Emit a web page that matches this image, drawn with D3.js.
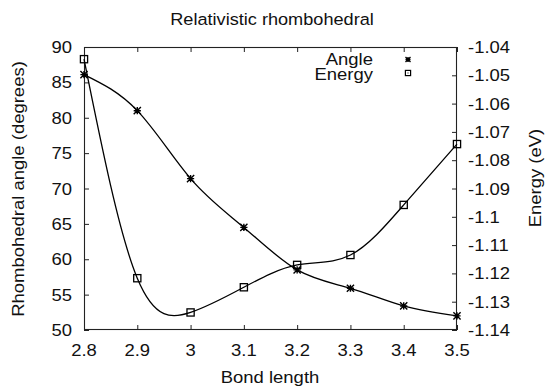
<!DOCTYPE html>
<html><head><meta charset="utf-8">
<script src="https://cdn.jsdelivr.net/npm/d3@7"></script>
<style>body{margin:0;background:#fff}svg{display:block}text{font-family:"Liberation Sans",Arial,sans-serif;fill:#111}</style>
</head><body><svg id="c" width="556" height="386"></svg>
<script>
const bondLength = [2.8, 2.9, 3.0, 3.1, 3.2, 3.3, 3.4, 3.5];
const angleDeg = [86.1, 81.0, 71.4, 64.5, 58.5, 55.9, 53.4, 52.0];
const energyEV = [-1.0443, -1.1217, -1.1338, -1.1249, -1.1170, -1.1135, -1.0958, -1.0743];
const xTicks = [2.8, 2.9, 3.0, 3.1, 3.2, 3.3, 3.4, 3.5];
const yLeftTicks = [50, 55, 60, 65, 70, 75, 80, 85, 90];
const yRightTicks = [-1.14, -1.13, -1.12, -1.11, -1.1, -1.09, -1.08, -1.07, -1.06, -1.05, -1.04];
const seriesNames = ["Angle", "Energy"];

const W = 556, H = 386;
const m = {l: 84, r: 457, t: 47, b: 330};
const FS = 16.5, SX = 1.12;
const svg = d3.select("#c");
const x = d3.scaleLinear().domain([2.8, 3.5]).range([m.l, m.r]);
const yL = d3.scaleLinear().domain([50, 90]).range([m.b, m.t]);
const yR = d3.scaleLinear().domain([-1.14, -1.04]).range([m.b, m.t]);

function label(g, txt, px, py, anchor, rot, fs, sx) {
  return g.append("text")
    .attr("transform", `translate(${px},${py}) rotate(${rot||0}) scale(${sx||SX},1)`)
    .attr("text-anchor", anchor).attr("font-size", fs || FS).text(txt);
}

const tl = 5;
// axes via d3 axis, inward ticks
const gx = svg.append("g").attr("transform", `translate(0,${m.b})`)
  .call(d3.axisBottom(x).tickValues(xTicks).tickSize(-tl).tickFormat(""));
const gxt = svg.append("g").attr("transform", `translate(0,${m.t})`)
  .call(d3.axisTop(x).tickValues(xTicks).tickSize(-tl).tickFormat(""));
const gyl = svg.append("g").attr("transform", `translate(${m.l},0)`)
  .call(d3.axisLeft(yL).tickValues(yLeftTicks).tickSize(-tl).tickFormat(""));
const gyr = svg.append("g").attr("transform", `translate(${m.r},0)`)
  .call(d3.axisRight(yR).tickValues(yRightTicks).tickSize(-tl).tickFormat(""));
[gx, gxt, gyl, gyr].forEach(g => {
  g.selectAll("path").remove();
  g.selectAll("line").attr("stroke", "#222").attr("stroke-width", 1);
});
svg.append("rect").attr("x", m.l + 0.5).attr("y", m.t + 0.5)
  .attr("width", m.r - m.l - 1).attr("height", m.b - m.t - 1)
  .attr("fill", "none").attr("stroke", "#222").attr("stroke-width", 1.1);

// tick labels
const tg = svg.append("g");
xTicks.forEach(v => label(tg, d3.format("")(v), x(v), 356, "middle"));
yLeftTicks.forEach(v => label(tg, String(v), 72, yL(v) + 6, "end"));
yRightTicks.forEach(v => label(tg, String(v), 468, yR(v) + 6, "start"));

// titles
label(svg, "Relativistic rhombohedral", 272, 24.5, "middle", 0, 16.5, 1.1);
label(svg, "Bond length", 270, 383, "middle");
label(svg, "Rhombohedral angle (degrees)", 24, 189, "middle", -90);
label(svg, "Energy (eV)", 541, 178, "middle", -90);

// curves
const lineA = d3.line().x((d, i) => x(bondLength[i])).y(d => yL(d)).curve(d3.curveNatural);
const lineE = d3.line().x((d, i) => x(bondLength[i])).y(d => yR(d)).curve(d3.curveNatural);
svg.append("path").attr("d", lineA(angleDeg)).attr("fill", "none").attr("stroke", "#000").attr("stroke-width", 1.3);
svg.append("path").attr("d", lineE(energyEV)).attr("fill", "none").attr("stroke", "#000").attr("stroke-width", 1.3);

function star(g, cx, cy, r, sw) {
  const p = `M${cx - r},${cy}H${cx + r}M${cx},${cy - r}V${cy + r}M${cx - r},${cy - r}L${cx + r},${cy + r}M${cx - r},${cy + r}L${cx + r},${cy - r}`;
  g.append("path").attr("d", p).attr("stroke", "#000").attr("stroke-width", sw).attr("fill", "none");
}
function square(g, cx, cy, r, sw) {
  g.append("rect").attr("x", cx - r).attr("y", cy - r).attr("width", 2 * r).attr("height", 2 * r)
    .attr("fill", "none").attr("stroke", "#000").attr("stroke-width", sw);
}
const pg = svg.append("g");
angleDeg.forEach((v, i) => star(pg, x(bondLength[i]), yL(v), 3.6, 1.4));
energyEV.forEach((v, i) => square(pg, x(bondLength[i]), yR(v), 3.6, 1.3));

// legend
const lg = svg.append("g");
label(lg, seriesNames[0], 373, 65, "end");
label(lg, seriesNames[1], 373, 80, "end");
star(lg, 408, 59.5, 2.5, 1.3);
square(lg, 408, 73, 2.6, 1.2);
lg.append("rect").attr("x", 407.5).attr("y", 72.5).attr("width", 1).attr("height", 1).attr("fill", "#000");
</script></body></html>
